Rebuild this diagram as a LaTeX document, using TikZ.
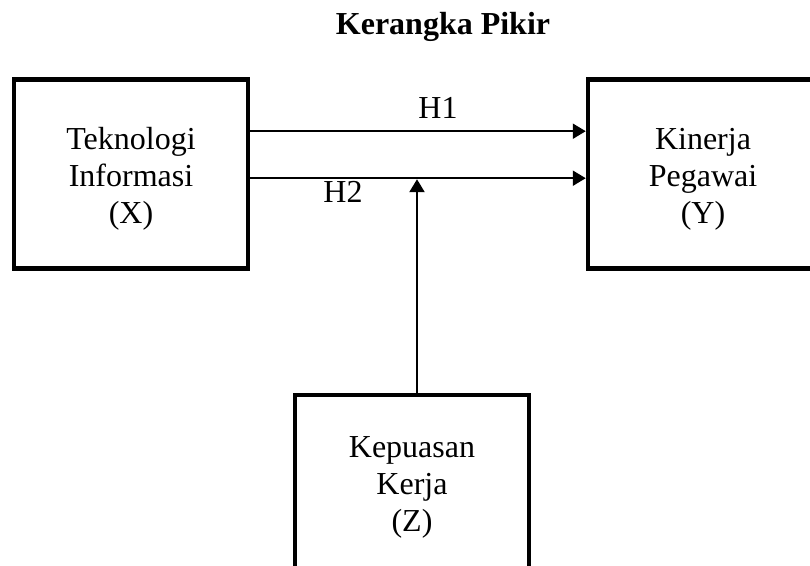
\documentclass[tikz,border=0pt]{standalone}
\usepackage{fontspec}
\setmainfont{Liberation Serif}
\usepackage{tikz}
\usetikzlibrary{arrows.meta,positioning}

\begin{document}
\begin{tikzpicture}[x=1pt,y=-1pt,font=\fontsize{32}{37}\selectfont,
  varbox/.style={draw,line width=4.5pt,align=center,minimum height=189pt},
  arrow/.style={line width=2.2pt,-{Triangle[length=13pt,width=15pt]}}]
  \useasboundingbox (0,0) rectangle (810,565);
  \clip (0,0) rectangle (810,565);
  \node[font=\fontsize{32}{37}\selectfont\bfseries] (title) at (443,27) {Kerangka Pikir};
  \node[varbox,minimum width=234pt] (tek) at (131,174.2) {\rule{0pt}{31pt}Teknologi\\Informasi\\(X)};
  \node[varbox,minimum width=230pt] (kin) at (703,174.2) {\rule{0pt}{31pt}Kinerja\\Pegawai\\(Y)};
  \node[varbox,minimum width=234pt,minimum height=178pt] (kep) at (412,484) {\rule{0pt}{28pt}Kepuasan\\Kerja\\(Z)};
  \draw[arrow] ([yshift=43pt]tek.east) -- ([yshift=43pt]kin.west);
  \draw[arrow] ([yshift=-4pt]tek.east) -- ([yshift=-4pt]kin.west);
  \draw[arrow] ([xshift=5pt]kep.north) -- ([xshift=5pt,yshift=-5pt]kep.north |- tek.east);
  \node (h1) at (438,108) {H1};
  \node (h2) at (343,192) {H2};
\end{tikzpicture}
\end{document}
